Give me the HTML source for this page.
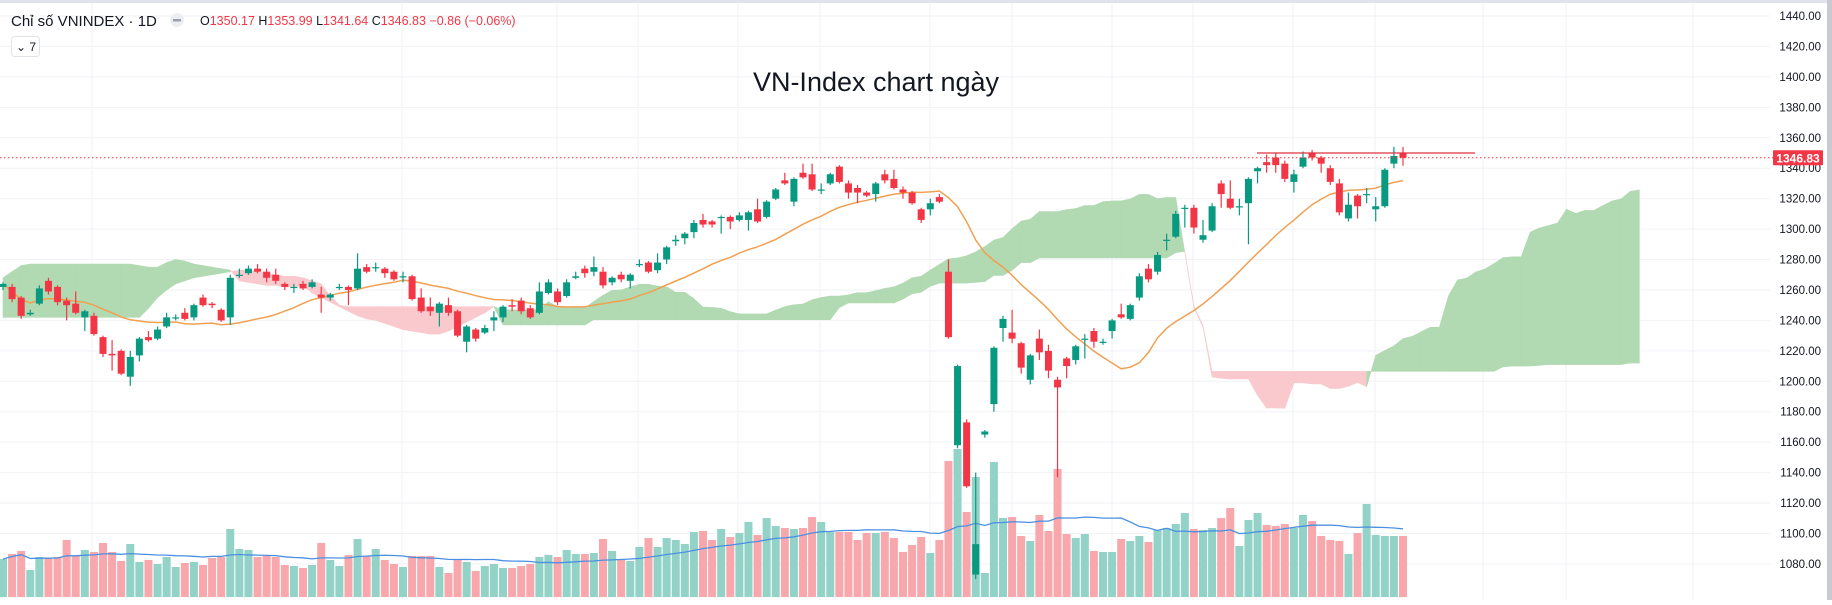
<!DOCTYPE html>
<html><head><meta charset="utf-8"><style>
html,body{margin:0;padding:0;background:#fff;}
body{width:1832px;height:600px;overflow:hidden;font-family:"Liberation Sans",sans-serif;}
svg text{font-family:"Liberation Sans","Noto Sans CJK SC",sans-serif;}
</style></head><body>
<svg id="chart" width="1832" height="600" viewBox="0 0 1832 600" xmlns="http://www.w3.org/2000/svg">
<rect x="0" y="0" width="1832" height="600" fill="#ffffff"/>
<g id="grid"></g>
<g id="cloud"></g>
<g id="vol"></g>
<path id="volma" fill="none" stroke="#4a90e2" stroke-width="1.3"/>
<path id="sma" fill="none" stroke="#f0a050" stroke-width="1.5"/>
<g id="candles"></g>
<line id="resline" stroke="#e0303e" stroke-width="1.3"/>
<line id="pline" stroke="#f23645" stroke-width="1" stroke-dasharray="1.5,2.5"/>
<g id="axis"></g>
<rect x="0" y="0" width="1832" height="3" fill="#e0e3eb"/>
<rect x="1827" y="0" width="5" height="600" fill="#c8cbd2"/>
<text x="11" y="26" font-size="15" fill="#131722">Chỉ số VNINDEX · 1D</text>
<circle cx="177" cy="20" r="7" fill="#eceef2"/>
<rect x="173" y="19" width="8" height="2.5" fill="#9aa0aa"/>
<text x="200" y="25" font-size="12.5" fill="#131722">O<tspan fill="#f23645">1350.17</tspan> H<tspan fill="#f23645">1353.99</tspan> L<tspan fill="#f23645">1341.64</tspan> C<tspan fill="#f23645">1346.83</tspan> <tspan fill="#f23645">−0.86 (−0.06%)</tspan></text>
<rect x="11.5" y="36.5" width="28" height="20" rx="3" fill="#fff" stroke="#e0e3eb"/>
<text x="16" y="51" font-size="12" fill="#131722">⌄ 7</text>
<text x="876" y="91" font-size="27" fill="#131722" text-anchor="middle">VN-Index chart ngày</text>
</svg>
<script>
const opens=[1262,1262,1255,1244,1251,1266,1262,1253,1251,1242,1243,1229,1218,1220,1203,1217,1229,1228,1236,1242,1245,1242,1255,1251,1247,1242,1270,1271,1274,1272,1270,1264,1262,1264,1262,1257,1255,1262,1262,1261,1275,1275,1274,1272,1269,1269,1255,1249,1245,1250,1246,1226,1234,1232,1240,1242,1250,1253,1248,1245,1258,1259,1256,1268,1274,1272,1272,1265,1270,1266,1277,1278,1273,1280,1292,1294,1298,1306,1305,1308,1308,1306,1306,1313,1308,1320,1332,1318,1337,1336,1326,1330,1341,1330,1327,1324,1323,1336,1333,1326,1324,1313,1313,1321,1272,1158,1173,1073,1165,1185,1235,1232,1225,1201,1228,1220,1201,1215,1214,1228,1233,1226,1233,1244,1241,1255,1274,1272,1293,1295,1314,1314,1293,1299,1330,1320,1315,1317,1338,1344,1347,1343,1331,1341,1350,1347,1340,1330,1307,1322,1323,1313,1315,1343,1350.17];
const highs=[1265,1264,1256,1247,1263,1268,1263,1255,1259,1247,1245,1230,1227,1221,1220,1229,1233,1236,1245,1244,1248,1251,1257,1252,1248,1270,1274,1276,1277,1274,1274,1265,1264,1266,1267,1262,1258,1264,1263,1284,1277,1278,1275,1273,1272,1270,1261,1255,1252,1255,1247,1237,1235,1237,1246,1250,1254,1255,1250,1265,1267,1261,1267,1272,1276,1282,1275,1269,1272,1271,1280,1279,1284,1289,1296,1298,1306,1310,1306,1309,1309,1311,1312,1320,1319,1327,1337,1334,1343,1343,1330,1337,1342,1332,1329,1325,1331,1339,1339,1328,1325,1314,1320,1323,1280,1211,1175,1140,1168,1223,1243,1247,1226,1218,1234,1224,1203,1216,1224,1231,1235,1228,1241,1251,1251,1271,1277,1285,1297,1312,1316,1316,1306,1317,1332,1332,1320,1334,1341,1349,1350,1345,1339,1351,1352,1348,1342,1333,1324,1323,1327,1321,1340,1354,1353.99];
const lows=[1260,1252,1241,1243,1250,1257,1250,1240,1244,1233,1230,1216,1207,1204,1197,1213,1226,1227,1235,1240,1240,1240,1249,1248,1239,1237,1268,1270,1271,1265,1264,1260,1258,1260,1261,1245,1253,1260,1250,1260,1271,1272,1268,1266,1265,1253,1245,1243,1236,1243,1229,1219,1226,1231,1233,1239,1246,1244,1241,1244,1257,1250,1255,1267,1268,1269,1261,1263,1265,1261,1275,1271,1271,1277,1289,1290,1294,1301,1301,1297,1300,1305,1299,1304,1307,1319,1329,1315,1333,1325,1323,1329,1330,1320,1317,1321,1318,1330,1326,1320,1316,1304,1309,1317,1228,1156,1130,1070,1163,1180,1226,1225,1205,1198,1214,1202,1137,1202,1211,1215,1222,1224,1228,1241,1240,1253,1265,1270,1286,1294,1301,1297,1291,1298,1314,1313,1309,1290,1330,1337,1337,1331,1324,1340,1345,1337,1329,1309,1305,1307,1317,1305,1314,1340,1341.64];
const closes=[1264,1254,1243,1245,1261,1259,1252,1250,1245,1246,1231,1218,1217,1205,1216,1228,1227,1234,1242,1242,1241,1250,1250,1250,1240,1268,1270,1274,1272,1268,1266,1262,1262,1261,1265,1255,1257,1262,1260,1274,1272,1275,1271,1267,1269,1254,1246,1246,1251,1245,1230,1236,1228,1235,1242,1249,1249,1246,1242,1259,1265,1252,1265,1269,1271,1275,1263,1268,1267,1270,1277,1272,1278,1288,1293,1297,1304,1303,1303,1308,1305,1309,1311,1305,1318,1326,1330,1333,1334,1326,1326,1336,1331,1324,1324,1322,1330,1332,1327,1324,1317,1306,1317,1318,1229,1210,1131,1093,1167,1222,1241,1228,1209,1217,1219,1207,1196,1210,1223,1228,1226,1226,1240,1242,1250,1269,1267,1283,1293,1310,1314,1301,1296,1315,1323,1314,1315,1333,1340,1342,1342,1333,1336,1347,1347,1343,1331,1311,1316,1315,1323,1315,1339,1348,1346.83];
const volumes=[380,430,460,270,400,390,400,570,410,470,450,540,450,360,530,350,370,330,400,300,340,350,320,390,400,680,480,470,400,410,400,320,310,290,320,540,370,310,420,580,410,480,370,330,300,410,410,410,300,240,380,350,260,310,330,290,290,310,330,400,420,400,470,430,430,440,580,460,370,360,500,590,500,590,570,530,650,660,570,680,600,640,750,620,790,710,690,680,690,800,750,650,650,650,570,640,640,650,590,450,520,600,440,570,1360,1480,850,1200,240,1350,790,800,610,560,820,660,1280,630,590,630,460,450,450,580,560,610,550,670,690,730,840,680,670,690,790,890,510,770,840,720,710,730,690,820,760,610,570,560,430,640,930,620,610,610,610];
// cloud spans for the first 55 positions (history before visible range)
const earlySpanA=[1268,1272,1276,1277,1277,1277,1277,1277,1277,1277,1277,1277,1277,1277,1277,1276,1275,1275,1278,1280,1279,1277,1276,1275,1274,1273,1266,1265,1264,1263,1263,1262,1262,1263,1258,1255,1252,1249,1246,1243,1241,1240,1238,1236,1234,1233,1232,1231,1231,1233,1236,1239,1242,1245,1249];
const earlySpanB=[1242,1242,1242,1242,1242,1242,1242,1242,1242,1242,1242,1242,1242,1242,1242,1242,1248,1255,1260,1264,1266,1268,1269,1270,1271,1272,1273,1273,1272,1271,1270,1269,1269,1268,1266,1264,1256,1250,1249,1249,1249,1249,1249,1249,1249,1249,1249,1249,1249,1249,1249,1249,1249,1249,1249];
const priceTicks=["1440.00","1420.00","1400.00","1380.00","1360.00","1340.00","1320.00","1300.00","1280.00","1260.00","1240.00","1220.00","1200.00","1180.00","1160.00","1140.00","1120.00","1100.00","1080.00"];
const vGridX=[92,402,557,638,738,820,930,1012,1112,1193,1293,1375,1483,1566,1693];
const lastPrice=1346.83;
const resistance=1350;

const NS="http://www.w3.org/2000/svg";
const N=closes.length;
const X0=3, DX=(1403-3)/154;
const xOf=i=>X0+i*DX;
const yOf=p=>16+(1440-p)*1.522;
const yVol=v=>597-v/10;
const PLOT_R=1770;
function mk(tag,attrs,parent){const e=document.createElementNS(NS,tag);for(const k in attrs)e.setAttribute(k,attrs[k]);parent.appendChild(e);return e;}

// grid
const grid=document.getElementById('grid');
priceTicks.forEach(t=>{const y=yOf(parseFloat(t));
 const l=mk('line',{x1:0,x2:PLOT_R,y1:y,y2:y,stroke:'#f0f2f6','stroke-width':1},grid);
 
 
});
vGridX.forEach(x=>{
 const l=mk('line',{x1:x,x2:x,y1:3,y2:600,stroke:'#f0f2f6','stroke-width':1},grid);
 
 
});

// ichimoku
function hl(j,len){let s=Math.max(0,j-len+1);let h=-1e9,l=1e9;for(let k=s;k<=j;k++){h=Math.max(h,highs[k]);l=Math.min(l,lows[k]);}return (h+l)/2;}
const spanA=[],spanB=[];
for(let i=0;i<N+26;i++){
 if(i<earlySpanA.length){spanA.push(earlySpanA[i]);spanB.push(earlySpanB[i]);continue;}
 let j=Math.min(Math.max(i-26,0),N-1);spanA.push((hl(j,9)+hl(j,26))/2);spanB.push(hl(j,52));}
const cloud=document.getElementById('cloud');
for(let i=0;i<spanA.length-1;i++){
 const x1=xOf(i),x2=xOf(i+1);
 const up=(spanA[i]+spanA[i+1])>=(spanB[i]+spanB[i+1]);
 const col=up?'#b1d9b2':'#f9c9cd';
 const p=mk('polygon',{points:`${x1},${yOf(spanA[i])} ${x2},${yOf(spanA[i+1])} ${x2},${yOf(spanB[i+1])} ${x1},${yOf(spanB[i])}`,fill:col,stroke:col,'stroke-width':0.6},cloud);
 
 
}

// volume
const vol=document.getElementById('vol');
for(let i=0;i<N;i++){
 const up=closes[i]>=opens[i];
 const r=mk('rect',{x:xOf(i)-4,y:yVol(volumes[i]),width:8,height:597-yVol(volumes[i]),fill:up?'#92d2c7':'#f8a8ac'},vol);
 
 
}
let vd='';
for(let i=0;i<N;i++){let s=Math.max(0,i-19),sum=0;for(let k=s;k<=i;k++)sum+=volumes[k];vd+=(i?'L':'M')+xOf(i).toFixed(1)+','+yVol(sum/(i-s+1)).toFixed(1);}
document.getElementById('volma').setAttribute('d',vd);

// sma 20
let sd='';
for(let i=0;i<N;i++){let s=Math.max(0,i-19),sum=0;for(let k=s;k<=i;k++)sum+=closes[k];sd+=(i?'L':'M')+xOf(i).toFixed(1)+','+yOf(sum/(i-s+1)).toFixed(1);}
document.getElementById('sma').setAttribute('d',sd);

// candles
const cg=document.getElementById('candles');
for(let i=0;i<N;i++){
 const up=closes[i]>=opens[i];const col=up?'#089981':'#f23645';const x=xOf(i);
 const w=mk('line',{x1:x,x2:x,y1:yOf(highs[i]),y2:yOf(lows[i]),stroke:col,'stroke-width':1.2},cg);
 
 
 const t=yOf(Math.max(opens[i],closes[i])),b=yOf(Math.min(opens[i],closes[i]));
 const r=mk('rect',{x:x-3.5,y:t,width:7,height:Math.max(1.2,b-t),fill:col},cg);
 
 
}

// lines
const rl=document.getElementById('resline');
rl.setAttribute('x1',1257);rl.setAttribute('x2',1475);rl.setAttribute('y1',yOf(resistance));rl.setAttribute('y2',yOf(resistance));
const pl=document.getElementById('pline');
pl.setAttribute('x1',0);pl.setAttribute('x2',1773);pl.setAttribute('y1',yOf(lastPrice));pl.setAttribute('y2',yOf(lastPrice));

// axis
const ax=document.getElementById('axis');
priceTicks.forEach(t=>{
 const tx=mk('text',{x:1821,y:yOf(parseFloat(t))+4,'font-size':11.5,fill:'#131722','text-anchor':'end'},ax);
 tx.textContent=t;
 
 
});
const ly=yOf(lastPrice);
const box=mk('rect',{x:1773,y:ly-7.5,width:50,height:15,fill:'#f23645',rx:1},ax);


const lt=mk('text',{x:1798,y:ly+4.5,'font-size':12,fill:'#ffffff','text-anchor':'middle','font-weight':'bold'},ax);
lt.textContent=lastPrice.toFixed(2);


</script>
</body></html>
